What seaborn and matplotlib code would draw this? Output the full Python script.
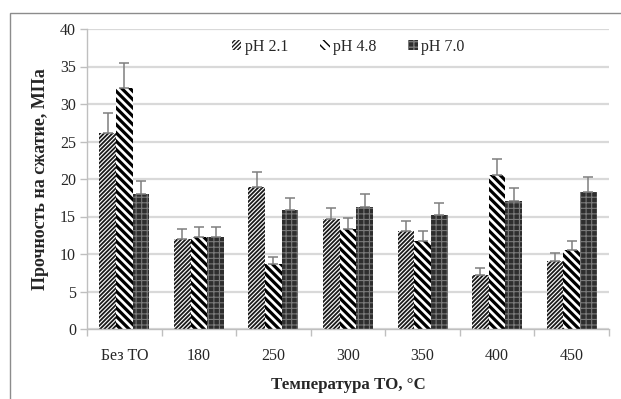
import matplotlib
matplotlib.use("Agg")
import matplotlib.pyplot as plt
from matplotlib.patches import Rectangle
from matplotlib.ticker import FixedLocator, NullFormatter
import numpy as np
import pandas as pd
import seaborn as sns

categories = ["Без ТО", "180", "250", "300", "350", "400", "450"]
series = ["pH 2.1", "pH 4.8", "pH 7.0"]
ph21 = [26.1, 12.0, 19.0, 14.7, 13.1, 7.2, 9.1]
ph48 = [32.1, 12.3, 8.7, 13.3, 11.7, 20.5, 10.5]
ph70 = [18.0, 12.3, 15.9, 16.3, 15.2, 17.1, 18.3]
err21 = [2.7, 1.3, 1.9, 1.4, 1.3, 0.9, 1.0]
err48 = [3.4, 1.3, 0.9, 1.5, 1.4, 2.2, 1.2]
err70 = [1.7, 1.3, 1.6, 1.7, 1.6, 1.7, 2.0]
y_ticks = [0, 5, 10, 15, 20, 25, 30, 35, 40]

values = {"pH 2.1": ph21, "pH 4.8": ph48, "pH 7.0": ph70}
errors = {"pH 2.1": err21, "pH 4.8": err48, "pH 7.0": err70}
df = pd.DataFrame(
    [(c, s, values[s][i]) for s in series for i, c in enumerate(categories)],
    columns=["temp", "ph", "strength"],
)

sns.set_theme(style="white")
plt.rcParams["font.family"] = ["Liberation Serif", "DejaVu Serif"]

fig = plt.figure(figsize=(6.21, 3.99), dpi=100)
ax = fig.add_axes([87 / 621, 1 - 329 / 399, (609 - 87) / 621, (329 - 29) / 399])

sns.barplot(data=df, x="temp", y="strength", hue="ph", order=categories,
            hue_order=series, width=0.67, errorbar=None, legend=False, ax=ax)

styles = {
    "pH 2.1": dict(face="white", edge="#1a1a1a", hatch="////////", hlw=1.3),
    "pH 4.8": dict(face="white", edge="#000000", hatch="\\\\\\\\", hlw=2.3),
    "pH 7.0": dict(face="#2e2e2e", edge="#7a7a7a", hatch="+++", hlw=0.8),
}

for s, cont in zip(series, ax.containers):
    st = styles[s]
    xs = []
    for bar in cont:
        bar.set_facecolor(st["face"])
        bar.set_edgecolor(st["edge"])
        bar.set_hatch(st["hatch"])
        bar.set_linewidth(0)
        try:
            bar.set_hatch_linewidth(st["hlw"])
        except AttributeError:
            pass
        xs.append(bar.get_x() + bar.get_width() / 2)
    ax.errorbar(xs, values[s], yerr=[np.zeros(len(xs)), errors[s]], fmt="none",
                ecolor="#7f7f7f", elinewidth=1.1, capsize=3.5, capthick=1.1,
                zorder=3)

ax.set_ylim(0, 40)
ax.set_xlim(-0.5, len(categories) - 0.5)
ax.set_yticks(y_ticks)
ax.yaxis.grid(True, color="#d9d9d9", linewidth=1.6)
ax.set_axisbelow(True)

for side in ["top", "right"]:
    ax.spines[side].set_visible(False)
for side in ["left", "bottom"]:
    ax.spines[side].set_color("#bfbfbf")
    ax.spines[side].set_linewidth(1.0)

ax.tick_params(axis="y", which="major", left=True, length=5, width=1,
               color="#bfbfbf", labelsize=11.5, pad=3)
ax.tick_params(axis="x", which="major", bottom=False, labelsize=11.5, pad=8)
ax.xaxis.set_minor_locator(FixedLocator(np.arange(-0.5, len(categories), 1.0)))
ax.xaxis.set_minor_formatter(NullFormatter())
ax.tick_params(axis="x", which="minor", bottom=True, length=5, width=1,
               color="#bfbfbf")

ax.set_xlabel("Температура ТО, °C", fontsize=12.2, fontweight="bold", labelpad=9)
ax.set_ylabel("Прочность на сжатие, МПа", fontsize=13, fontweight="bold",
              labelpad=8)

ax.legend(ax.containers, series, loc="upper center", bbox_to_anchor=(0.5, 1.015),
          ncol=3, frameon=False, fontsize=11.5, handlelength=0.6,
          handleheight=0.6, handletextpad=0.2, columnspacing=2.0)

fig.patches.append(Rectangle((10 / 621, -0.1), 1.2, 1.1 - 13 / 399,
                             transform=fig.transFigure, fill=False,
                             edgecolor="#8c8c8c", linewidth=1.0))

fig.savefig("out.png", dpi=100)
